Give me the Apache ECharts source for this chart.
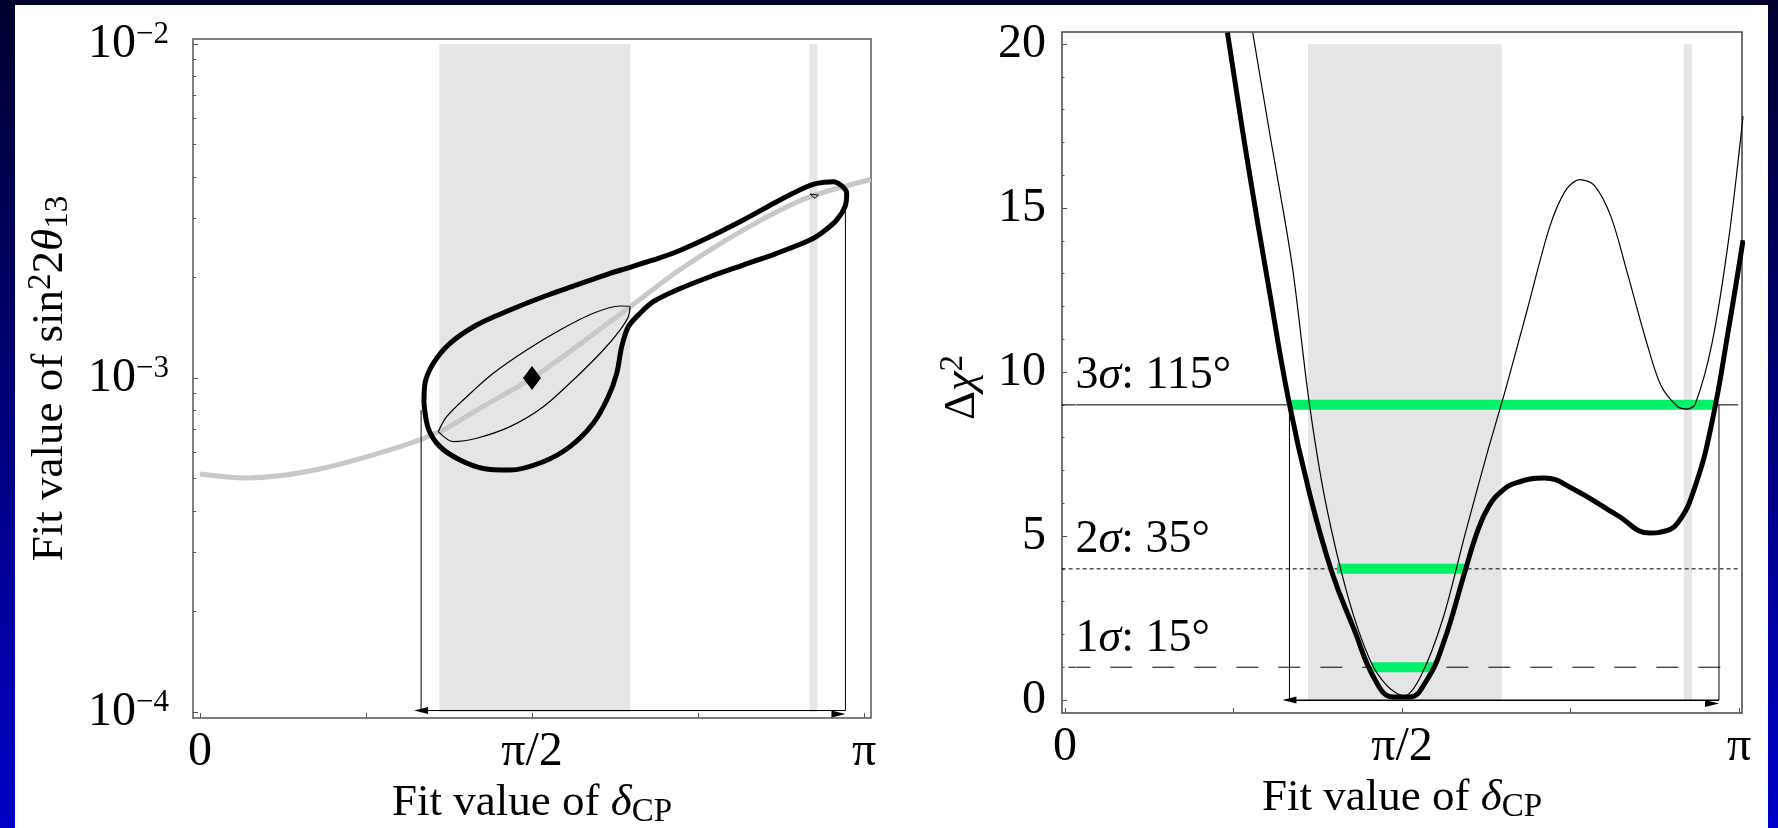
<!DOCTYPE html>
<html>
<head>
<meta charset="utf-8">
<title>Fit value of δCP</title>
<script src="https://cdn.jsdelivr.net/npm/echarts@6/dist/echarts.min.js"></script>
<style>
  html, body { margin: 0; padding: 0; background: #00006e; }
  #chart { width: 1778px; height: 828px; }
</style>
</head>
<body>
<div id="chart"></div>
<script>
// delta_CP is given in units of pi (0 .. 1)
const xTicks = [0, 0.25, 0.5, 0.75, 1];
const xLabelValues = [0, 0.5, 1];
const xLabelText = ['0', 'π/2', 'π'];

// shaded delta_CP regions (same in both panels)
const bandsDelta = [[0.3605, 0.648], [0.918, 0.930]];

// ---- left panel: sin^2 2theta13 (log) ----
const yExpLabels = [-4, -3, -2];
const yMinorLeft = [2e-4, 3e-4, 4e-4, 5e-4, 6e-4, 7e-4, 8e-4, 9e-4,
                    2e-3, 3e-3, 4e-3, 5e-3, 6e-3, 7e-3, 8e-3, 9e-3];
const bestFit = [[0.5, 1e-3]];
const trajectory = [
  [0, 5.16e-4], [0.071, 5.02e-4], [0.175, 5.31e-4], [0.304, 6.25e-4],
  [0.366, 6.99e-4], [0.417, 8.02e-4], [0.4995, 9.98e-4], [0.567, 1.241e-3],
  [0.648, 1.635e-3], [0.718, 2.081e-3], [0.768, 2.416e-3], [0.818, 2.773e-3],
  [0.869, 3.147e-3], [0.919, 3.49e-3], [0.969, 3.74e-3], [1.01, 3.93e-3]
];
const contourOuter = [
  [0.3373, 8.40e-4], [0.3389, 9.64e-4], [0.3514, 1.107e-3], [0.3765, 1.27e-3],
  [0.4167, 1.441e-3], [0.4669, 1.598e-3], [0.517, 1.751e-3], [0.5673, 1.899e-3],
  [0.6175, 2.058e-3], [0.6426, 2.13e-3], [0.6827, 2.256e-3], [0.7179, 2.388e-3],
  [0.7681, 2.648e-3], [0.8182, 2.972e-3], [0.8685, 3.371e-3], [0.9086, 3.698e-3],
  [0.9288, 3.827e-3], [0.9538, 3.870e-3], [0.9739, 3.573e-3], [0.9714, 3.257e-3],
  [0.9589, 2.972e-3], [0.9387, 2.742e-3], [0.9187, 2.589e-3], [0.8685, 2.362e-3],
  [0.8182, 2.179e-3], [0.7681, 2.01e-3], [0.7179, 1.834e-3], [0.6827, 1.692e-3],
  [0.6627, 1.562e-3], [0.645, 1.424e-3], [0.6351, 1.241e-3], [0.6276, 1.033e-3],
  [0.6149, 8.79e-4], [0.5923, 7.32e-4], [0.5572, 6.23e-4], [0.517, 5.615e-4],
  [0.4669, 5.30e-4], [0.4267, 5.36e-4], [0.3916, 5.68e-4], [0.3614, 6.23e-4],
  [0.3438, 7.07e-4], [0.3373, 8.40e-4]
];
const contourInner = [
  [0.3589, 6.91e-4], [0.3815, 6.45e-4], [0.4167, 6.60e-4], [0.4669, 7.15e-4],
  [0.517, 8.20e-4], [0.5673, 1.009e-3], [0.6074, 1.213e-3], [0.6325, 1.392e-3],
  [0.645, 1.526e-3], [0.6476, 1.635e-3], [0.6325, 1.643e-3], [0.5923, 1.562e-3],
  [0.5422, 1.392e-3], [0.492, 1.213e-3], [0.4417, 1.033e-3], [0.4017, 8.79e-4],
  [0.3715, 7.66e-4], [0.3589, 6.91e-4]
];
const contourIsland = [[0.9187, 3.556e-3], [0.9312, 3.53e-3], [0.9262, 3.45e-3], [0.9187, 3.556e-3]];
const leftRange = [[0.333, 8.02e-4], [0.333, 1.01e-4], [0.972, 1.01e-4], [0.972, 3.34e-3]];

// ---- right panel: delta chi^2 ----
const chiMajor = [0, 5, 10, 15, 20];
const chiMinor = [1, 2, 3, 4, 6, 7, 8, 9, 11, 12, 13, 14, 16, 17, 18, 19];
const chiThick = [
  [0.241, 20.35], [0.270, 16.52], [0.303, 12.5], [0.332, 9.12], [0.362, 6.37],
  [0.395, 3.96], [0.428, 2.20], [0.461, 0.58], [0.487, 0.09], [0.511, 0.09],
  [0.536, 0.58], [0.561, 1.71], [0.594, 3.96], [0.611, 5.09], [0.628, 5.88],
  [0.648, 6.37], [0.669, 6.62], [0.711, 6.77], [0.752, 6.46], [0.819, 5.64],
  [0.868, 5.09], [0.884, 5.12], [0.909, 5.40], [0.935, 6.52], [0.960, 8.48],
  [0.985, 11.37], [1.006, 14.02]
];
const chiThin = [
  [0.2785, 20.35], [0.3034, 17.32], [0.3368, 13.29], [0.362, 9.12], [0.3865, 6.04],
  [0.420, 3.14], [0.4525, 1.22], [0.478, 0.43], [0.503, 0.12], [0.528, 0.73],
  [0.561, 2.50], [0.594, 5.09], [0.628, 7.65], [0.653, 9.42], [0.685, 11.84],
  [0.719, 14.42], [0.743, 15.55], [0.764, 15.87], [0.785, 15.70], [0.810, 14.74],
  [0.835, 12.97], [0.861, 11.04], [0.884, 9.60], [0.909, 8.95], [0.923, 8.87],
  [0.935, 9.02], [0.960, 10.88], [0.985, 14.10], [1.006, 17.8]
];
const sigmaLevels = [1, 4, 9];
const sigmaNum = ['1', '2', '3'];
const sigmaWidth = ['15°', '35°', '115°'];
const sigmaRanges = [[0.4555, 0.549], [0.4036, 0.5942], [0.3338, 0.9644]];
const levelSpans = [[0.005, 0.984], [-0.005, 1.002], [-0.005, 0.999]];
const sigmaLabelX = 0.0163;
const rightRange = [[0.333, 9], [0.333, 0], [0.9703, 0], [0.9703, 9]];

// ---- styling ----
const serif = 'Liberation Serif';
function richSet(fs, fss) {
  const base = { fontFamily: serif, fontWeight: 'normal', color: '#000000' };
  return {
    n: Object.assign({ fontSize: fs, lineHeight: 50, fontStyle: 'normal' }, base),
    i: Object.assign({ fontSize: fs, lineHeight: 50, fontStyle: 'italic' }, base),
    sup: Object.assign({ fontSize: fss, lineHeight: fss, fontStyle: 'normal', verticalAlign: 'top' }, base),
    sub: Object.assign({ fontSize: fss, lineHeight: fss, fontStyle: 'normal', verticalAlign: 'bottom' }, base)
  };
}
const richName = richSet(45, 33);
const richTick = richSet(48, 31);
const richText = richSet(46, 30);
const labelFont = { fontFamily: serif, fontSize: 46, color: '#000000', fontWeight: 'normal', fontStyle: 'normal' };
const tickColor = '#555';
const yExpRange = [-4.018, -1.985];

function xAxisFor(gridIndex, min, max, nameGap) {
  return {
    type: 'value', gridIndex, min, max,
    name: '{n|Fit value of }{i|δ}{sub|CP}',
    nameLocation: 'middle', nameGap,
    nameTextStyle: Object.assign({ rich: richName }, labelFont),
    axisLine: { show: false, onZero: false },
    axisTick: { show: true, inside: true, length: 5, customValues: xTicks,
                lineStyle: { color: tickColor, width: 1 } },
    axisLabel: Object.assign({ show: true, customValues: xLabelValues, margin: 9, rich: richTick,
                 formatter: v => '{n|' + xLabelText[xLabelValues.indexOf(v)] + '}' }, labelFont),
    splitLine: { show: false }
  };
}

function lineSeries(xi, yi, data, color, width, extra) {
  return Object.assign({
    type: 'line', xAxisIndex: xi, yAxisIndex: yi, data,
    showSymbol: false, symbol: 'none', silent: true,
    lineStyle: { color, width }
  }, extra || {});
}

function bandSeries(xi, yi, y0, y1) {
  return {
    type: 'line', xAxisIndex: xi, yAxisIndex: yi, data: [], z: 1, silent: true,
    markArea: {
      silent: true,
      itemStyle: { color: '#e5e5e5' },
      data: bandsDelta.map(b => [{ coord: [b[0], y0] }, { coord: [b[1], y1] }])
    }
  };
}

function arrowLine(range) {
  return {
    silent: true,
    symbol: ['triangle', 'triangle'],
    symbolSize: [7, 14],
    symbolOffset: [0, '50%'],
    label: { show: false },
    lineStyle: { color: '#000', width: 1, type: 'solid' },
    data: [[{ coord: range[1] }, { coord: range[2] }]]
  };
}

const chart = echarts.init(document.getElementById('chart'));

const option = {
  animation: false,
  textStyle: { fontFamily: serif, color: '#000000' },
  backgroundColor: new echarts.graphic.LinearGradient(0, 0, 0, 1, [
    { offset: 0, color: '#00002e' }, { offset: 1, color: '#0000c8' }
  ]),
  graphic: [{
    type: 'rect', z: -100, silent: true,
    shape: { x: 15, y: 5, width: 1753, height: 823 },
    style: { fill: '#ffffff' }
  }],
  grid: [
    { left: 193, top: 39, width: 678, height: 679, show: true,
      borderColor: '#555', borderWidth: 1.5, backgroundColor: 'transparent',
      outerBoundsMode: 'none' },
    { left: 1062, top: 32, width: 680, height: 681, show: true,
      borderColor: '#444', borderWidth: 1.5, backgroundColor: 'transparent',
      outerBoundsMode: 'none' }
  ],
  xAxis: [
    xAxisFor(0, -0.0105, 1.0105, 45),
    xAxisFor(1, -0.00445, 1.00445, 50)
  ],
  yAxis: [
    // 0: log axis carrying the left-panel data
    { type: 'log', logBase: 10, gridIndex: 0, show: false,
      min: Math.pow(10, yExpRange[0]), max: Math.pow(10, yExpRange[1]) },
    // 1: decade ticks + labels for the log axis (exponent space)
    { type: 'value', gridIndex: 0, position: 'left', min: yExpRange[0], max: yExpRange[1],
      name: '{n|Fit value of sin}{sup|2}{n|2}{i|θ}{sub|13}',
      nameLocation: 'middle', nameRotate: 90, nameGap: 118,
      nameTextStyle: Object.assign({ rich: richName }, labelFont),
      axisLine: { show: false, onZero: false },
      axisTick: { show: true, inside: true, length: 5, customValues: yExpLabels,
                  lineStyle: { color: tickColor, width: 1 } },
      axisLabel: Object.assign({ show: true, customValues: yExpLabels, margin: 24, rich: richTick,
                   formatter: v => '{n|10}{sup|−' + Math.abs(v) + '}' }, labelFont),
      splitLine: { show: false } },
    // 2: minor log ticks
    { type: 'value', gridIndex: 0, position: 'left', min: yExpRange[0], max: yExpRange[1],
      axisLine: { show: false, onZero: false },
      axisTick: { show: true, inside: true, length: 3, customValues: yMinorLeft.map(Math.log10),
                  lineStyle: { color: tickColor, width: 1 } },
      axisLabel: { show: false }, splitLine: { show: false } },
    // 3: delta chi^2
    { type: 'value', gridIndex: 1, position: 'left', min: -0.396, max: 20.37,
      name: '{n|Δ}{i|χ}{sup|2}',
      nameLocation: 'middle', nameRotate: 90, nameGap: 75,
      nameTextStyle: Object.assign({ rich: richName, padding: [0, 30, 0, 0] }, labelFont),
      axisLine: { show: false, onZero: false },
      axisTick: { show: true, inside: true, length: 5, customValues: chiMajor,
                  lineStyle: { color: tickColor, width: 1 } },
      axisLabel: Object.assign({ show: true, customValues: chiMajor, margin: 16, rich: richTick,
                   formatter: v => '{n|' + v + '}' }, labelFont),
      splitLine: { show: false } },
    // 4: minor chi^2 ticks
    { type: 'value', gridIndex: 1, position: 'left', min: -0.396, max: 20.37,
      axisLine: { show: false, onZero: false },
      axisTick: { show: true, inside: true, length: 2.5, customValues: chiMinor,
                  lineStyle: { color: tickColor, width: 1 } },
      axisLabel: { show: false }, splitLine: { show: false } }
  ],
  series: [
    // left panel
    bandSeries(0, 0, 1e-4, 1e-2),
    lineSeries(0, 0, trajectory, '#c8c8c8', 5, { smooth: 0.3 }),
    lineSeries(0, 0, leftRange, '#000', 1, { markLine: arrowLine(leftRange) }),
    lineSeries(0, 0, contourOuter, '#000', 5, { smooth: 0.3, lineStyle: { color: '#000', width: 5, join: 'round' } }),
    lineSeries(0, 0, contourInner, '#000', 1.2, { smooth: 0.3 }),
    lineSeries(0, 0, contourIsland, '#000', 1),
    { type: 'scatter', xAxisIndex: 0, yAxisIndex: 0, data: bestFit, silent: true, z: 10,
      symbol: 'diamond', symbolSize: [18, 24], itemStyle: { color: '#000000', opacity: 1 } },

    // right panel
    bandSeries(1, 3, 0, 20),
    lineSeries(1, 3, levelSpans[0].map(x => [x, sigmaLevels[0]]), '#000', 1,
      { lineStyle: { color: '#000', width: 1, type: [22, 20] } }),
    lineSeries(1, 3, levelSpans[1].map(x => [x, sigmaLevels[1]]), '#000', 1,
      { lineStyle: { color: '#000', width: 1, type: [4, 3] } }),
    lineSeries(1, 3, levelSpans[2].map(x => [x, sigmaLevels[2]]), '#000', 1),
    lineSeries(1, 3, rightRange, '#000', 1, { markLine: arrowLine(rightRange) }),
    ...sigmaRanges.map((r, k) => lineSeries(1, 3, r.map(x => [x, sigmaLevels[k]]), '#00f068', 10,
      { lineStyle: { color: '#00f068', width: 10, cap: 'butt' } })),
    lineSeries(1, 3, chiThin, '#000', 1.2, { smooth: 0.3 }),
    lineSeries(1, 3, chiThick, '#000', 5, { smooth: 0.45, lineStyle: { color: '#000', width: 5, join: 'round' } }),
    { type: 'scatter', xAxisIndex: 1, yAxisIndex: 3, silent: true, z: 10,
      data: sigmaLevels.map(l => [sigmaLabelX, l]),
      symbol: 'rect', symbolSize: 1, itemStyle: { color: '#ffffff', opacity: 1 },
      label: Object.assign({ show: true, position: [0, -3], align: 'left', verticalAlign: 'bottom', rich: richText,
               formatter: p => '{n|' + sigmaNum[p.dataIndex] + '}{i|σ}{n|: ' + sigmaWidth[p.dataIndex] + '}' },
               labelFont) }
  ]
};

chart.setOption(option);
</script>
</body>
</html>
